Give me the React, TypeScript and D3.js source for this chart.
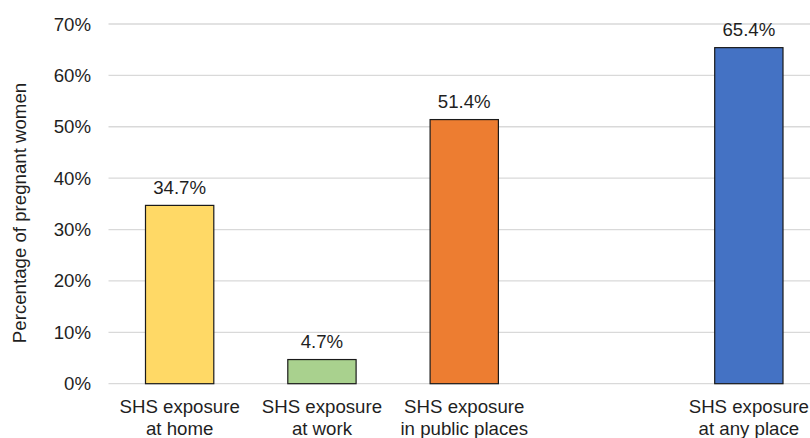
import React from "react";
import * as d3 from "d3";

const slots = ["home", "work", "public", "gap", "any"];
const labelLines = [
  ["SHS exposure", "at home"],
  ["SHS exposure", "at work"],
  ["SHS exposure", "in public places"],
  [],
  ["SHS exposure", "at any place"],
];
const values: (number | null)[] = [34.7, 4.7, 51.4, null, 65.4];
const colors = ["#FFD966", "#A9D18E", "#ED7D31", "none", "#4472C4"];
const yTicks = [0, 10, 20, 30, 40, 50, 60, 70];
const yTitle = "Percentage of pregnant women";

const W = 810;
const H = 438;
const FONT = "'Liberation Sans', Arial, sans-serif";
const FS = 18.67;

export default function App() {
  const x = d3
    .scaleBand<string>()
    .domain(slots)
    .range([108.5, 820])
    .paddingInner(0.52)
    .paddingOuter(0.26);
  const y = d3.scaleLinear().domain([0, 70]).range([383.7, 24]);
  const bw = x.bandwidth();

  return (
    <svg
      width={W}
      height={H}
      style={{ position: "absolute", left: 0, top: 0, background: "#fff" }}
      fontFamily={FONT}
    >
      <rect x={0} y={0} width={W} height={H} fill="#fff" />
      {yTicks.map((t) => (
        <g key={t}>
          <line
            x1={108.5}
            x2={820}
            y1={y(t)}
            y2={y(t)}
            stroke="#d9d9d9"
            strokeWidth={1.3}
          />
          <text
            x={91}
            y={y(t)}
            dy="0.35em"
            textAnchor="end"
            fontSize={FS}
            fill="#1f1f1f"
          >
            {t}%
          </text>
        </g>
      ))}
      {slots.map((s, i) => {
        const v = values[i];
        if (v == null) return null;
        const bx = x(s)!;
        return (
          <g key={s}>
            <rect
              x={bx}
              y={y(v)}
              width={bw}
              height={y(0) - y(v)}
              fill={colors[i]}
              stroke="#1a1a1a"
              strokeWidth={1.2}
            />
            <text
              x={bx + bw / 2}
              y={y(v) - 11.5}
              textAnchor="middle"
              fontSize={FS}
              fill="#1f1f1f"
            >
              {v.toFixed(1)}%
            </text>
          </g>
        );
      })}
      {slots.map((s, i) => (
        <text
          key={"l" + s}
          x={x(s)! + bw / 2}
          textAnchor="middle"
          fontSize={FS}
          fill="#1f1f1f"
        >
          {labelLines[i].map((ln, j) => (
            <tspan key={j} x={x(s)! + bw / 2} y={413 + j * 21.5}>
              {ln}
            </tspan>
          ))}
        </text>
      ))}
      <text
        transform={`translate(25.5,213) rotate(-90)`}
        textAnchor="middle"
        fontSize={FS}
        fill="#1f1f1f"
      >
        {yTitle}
      </text>
    </svg>
  );
}
